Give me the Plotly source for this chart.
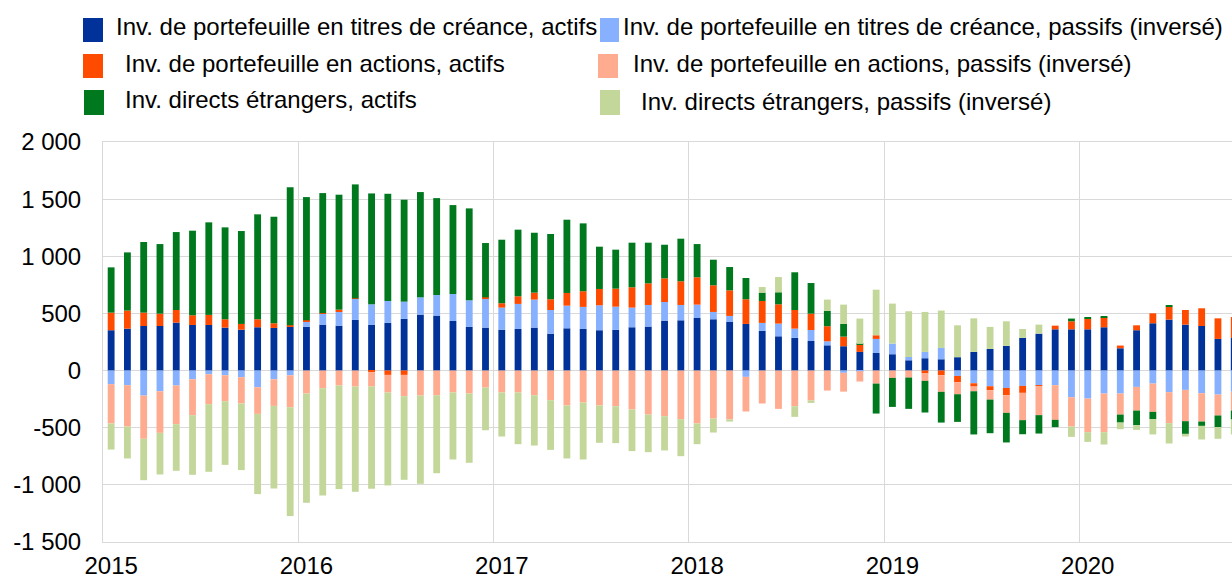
import plotly.graph_objects as go

# ---------------- data (EUR bn, 12-month cumulated flows) ----------------
months = [f"{y}-{m:02d}" for y in range(2015, 2021) for m in range(1, 13)][:70]
year_labels = ["2015", "2016", "2017", "2018", "2019", "2020"]

debt_assets = [353, 367, 390, 390, 420, 399, 399, 376, 358, 379, 373, 382,
               382, 402, 393, 443, 399, 417, 452, 490, 481, 434, 382, 376,
               358, 364, 376, 323, 370, 364, 353, 356, 379, 385, 437, 440,
               460, 449, 425, 408, 347, 300, 286, 259, 221, 213, 163, 154,
               143, 90, 108, 99, 117, 163, 189, 216, 286, 323, 361, 361,
               361, 379, 195, 353, 414, 446, 402, 390, 277, 286]
debt_liab_inv = [-119, -128, -219, -181, -131, -76, -32, -41, -58, -146, -76, -41,
                 43, 96, 123, 186, 181, 192, 151, 151, 180, 236, 233, 251,
                 193, 219, 245, 207, 198, 193, 218, 203, 172, 189, 163, 134,
                 117, 64, 53, -55, 70, 111, 81, 96, 35, -20, -5, 123,
                 93, 29, 55, 99, -47, -111, -137, -152, -134, -128, -128, -233,
                 -245, -201, -201, -143, -114, -189, -169, -198, -210, -186]
equity_assets = [154, 158, 117, 108, 110, 85, 88, 73, 50, 70, 41, 14,
                 15, 5, 17, 3, -15, -38, -38, 0, 0, 0, 0, 14,
                 38, 67, 61, 94, 111, 137, 143, 158, 178, 189, 207, 207,
                 239, 233, 224, 216, 192, 169, 163, 143, 132, 84, 61, 32,
                 0, 0, -25, -41, -55, -29, -35, -64, -61, -6, 32, 70,
                 91, 87, 24, 43, 87, 113, 128, 155, 180, 183]
equity_liab_inv = [-344, -362, -378, -364, -338, -314, -262, -227, -230, -233, -233, -280,
                   -201, -154, -131, -140, -125, -154, -186, -219, -216, -192, -201, -149,
                   -192, -192, -216, -259, -306, -280, -306, -312, -341, -385, -399, -425,
                   -463, -420, -428, -303, -288, -335, -312, -262, -175, -164, -91, -114,
                   -64, -61, -65, -145, -105, -41, -82, -154, -239, -256, -303, -257,
                   -294, -338, -184, -207, -247, -271, -274, -248, -183, -164]
fdi_assets = [396, 509, 618, 609, 682, 740, 810, 804, 813, 918, 932, 1207,
              1078, 1050, 1006, 997, 970, 938, 892, 921, 848, 778, 804, 475,
              556, 583, 524, 571, 641, 594, 370, 341, 390, 356, 294, 373,
              291, 224, 204, 186, 73, 105, 330, 268, 134, 111, 9, -262,
              -254, -274, -277, -269, -242, -378, -294, -259, -123, -161, -64, 24,
              11, 9, -70, -128, -64, 9, -111, -38, -102, -78]
fdi_liab_inv = [-228, -279, -362, -364, -408, -522, -592, -557, -583, -702, -723, -952,
                -956, -939, -906, -921, -894, -813, -732, -772, -682, -586, -606, -373,
                -385, -452, -440, -435, -463, -498, -326, -323, -364, -329, -300, -324,
                -181, -122, -18, 0, 49, 134, -93, -21, 99, 169, 222, 399,
                350, 400, 350, 327, 279, 294, 193, 215, 78, 79, 0, -90,
                -85, -108, -58, -41, -134, -178, -23, -119, -102, -131]

series_names = [
    "Inv. de portefeuille en titres de créance, actifs",
    "Inv. de portefeuille en titres de créance, passifs (inversé)",
    "Inv. de portefeuille en actions, actifs",
    "Inv. de portefeuille en actions, passifs (inversé)",
    "Inv. directs étrangers, actifs",
    "Inv. directs étrangers, passifs (inversé)",
]
series_values = [debt_assets, debt_liab_inv, equity_assets, equity_liab_inv,
                 fdi_assets, fdi_liab_inv]
series_colors = ["#003299", "#87B0FF", "#FF4B00", "#FFAB8F", "#00781E", "#C4D79B"]

y_ticks = [-1500, -1000, -500, 0, 500, 1000, 1500, 2000]
y_ticktext = ["-1 500", "-1 000", "-500", "0", "500", "1 000", "1 500", "2 000"]

# ---------------- figure ----------------
FONT = "Liberation Sans, Arial, sans-serif"
GRID = "#D9D9D9"
W, H = 1232, 580
L, T, B = 103, 142, 38
PW, PH = W - L, H - T - B

xpos = [i + 0.5 for i in range(len(months))]

fig = go.Figure()
for name, vals, col in zip(series_names, series_values, series_colors):
    fig.add_trace(go.Bar(
        x=xpos, y=vals, name=name, width=0.42,
        marker=dict(color=col, line=dict(width=0)),
        showlegend=False,
        customdata=months,
        hovertemplate="%{customdata}: %{y}<extra>" + name + "</extra>",
    ))

# manual legend (2 columns x 3 rows), positions in pixels
def px2paper(px, py):
    return (px - L) / PW, (H - B - py) / PH

legend_layout = [
    # (marker x0, marker x1, marker y0, marker y1, text x, text y)
    (83, 103, 18, 42, 115, 27),     # debt assets
    (600, 619, 18, 42, 622, 27),    # debt liab
    (83, 103, 54, 78, 124, 63),     # equity assets
    (598, 618, 54, 78, 632, 63),    # equity liab
    (84, 104, 90, 115, 124, 99),    # fdi assets
    (600, 620, 90, 115, 640, 102),  # fdi liab
]
shapes = []
annotations = []
for (mx0, mx1, my0, my1, tx, ty), name, col in zip(legend_layout, series_names, series_colors):
    x0, y0 = px2paper(mx0, my1)
    x1, y1 = px2paper(mx1, my0)
    shapes.append(dict(type="rect", xref="paper", yref="paper", x0=x0, x1=x1,
                       y0=y0, y1=y1, fillcolor=col, line=dict(width=0), layer="above"))
    ax, ay = px2paper(tx, ty)
    annotations.append(dict(text=name, xref="paper", yref="paper", x=ax, y=ay,
                            xanchor="left", yanchor="middle", showarrow=False,
                            borderpad=0,
                            font=dict(family=FONT, size=24, color="#000000")))

fig.update_layout(
    width=W, height=H,
    margin=dict(l=L, r=0, t=T, b=B, pad=0, autoexpand=False),
    paper_bgcolor="white", plot_bgcolor="white",
    barmode="relative",
    font=dict(family=FONT, size=24, color="#000000"),
    shapes=shapes, annotations=annotations,
    xaxis=dict(
        range=[0, (W - L) / ((1079.3 - 102.7) / 60)],
        tickmode="array",
        tickvals=[12 * k + 0.5 for k in range(len(year_labels))],
        ticktext=year_labels,
        showgrid=False, zeroline=False, automargin=False,
        ticks="", ticklabelstandoff=2,
        showline=True, mirror=True, linecolor=GRID, linewidth=1,
        minor=dict(tickvals=[12 * k for k in range(len(year_labels))],
                   showgrid=True, gridcolor=GRID, gridwidth=1, ticks=""),
        tickfont=dict(family=FONT, size=24, color="#000000"),
    ),
    yaxis=dict(
        range=[-1500, 2000],
        tickmode="array", tickvals=y_ticks, ticktext=y_ticktext,
        showgrid=True, gridcolor=GRID, gridwidth=1,
        zeroline=True, zerolinecolor=GRID, zerolinewidth=1,
        showline=True, linecolor=GRID, linewidth=1, automargin=False,
        ticks="", ticklabelstandoff=16,
        tickfont=dict(family=FONT, size=24, color="#000000"),
    ),
)

fig.write_html(
    "out.html",
    config={"displayModeBar": False},
    post_script="document.body.style.margin='0';document.body.style.overflow='hidden';",
)
